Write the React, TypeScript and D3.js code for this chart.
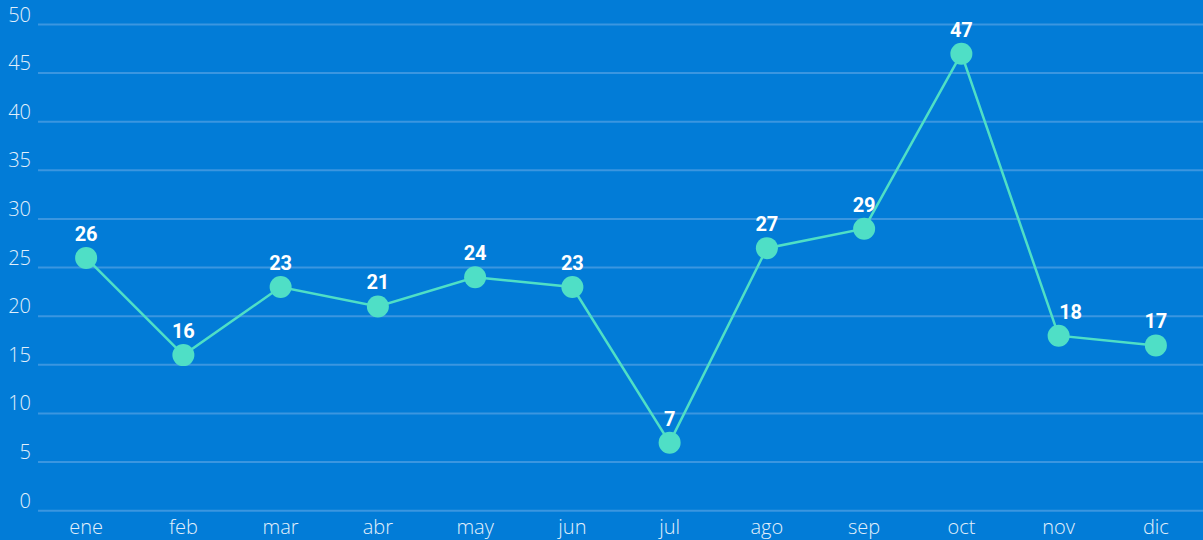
import React from "react";
import * as d3 from "d3";

const months = ["ene", "feb", "mar", "abr", "may", "jun", "jul", "ago", "sep", "oct", "nov", "dic"];
const values = [26, 16, 23, 21, 24, 23, 7, 27, 29, 47, 18, 17];
const yTicks = [0, 5, 10, 15, 20, 25, 30, 35, 40, 45, 50];

const W = 1203;
const H = 540;

export default function App() {
  const x = d3.scaleBand<string>().domain(months).range([37.5, 1204.5]);
  const y = d3.scaleLinear().domain([0, 50]).range([510.7, 24.5]);
  const cx = (m: string) => (x(m) as number) + x.bandwidth() / 2;
  const line = d3
    .line<number>()
    .x((_, i) => cx(months[i]))
    .y((d) => y(d));
  // label nudged right when the incoming segment is steep from above (avoids overlap)
  const labelDx = (i: number) =>
    i > 0 && values[i - 1] - values[i] > 20 ? 12 : 0;
  return (
    <svg
      width={W}
      height={H}
      style={{ position: "fixed", left: 0, top: 0, display: "block" }}
    >
      <rect x={0} y={0} width={W} height={H} fill="#027cd7" />
      {yTicks.map((t) => (
        <g key={t}>
          <line x1={38} x2={W} y1={y(t)} y2={y(t)} stroke="#3b96e0" strokeWidth={2} />
          <text
            x={31}
            y={y(t) - 3}
            textAnchor="end"
            fill="#e2f0fb"
            fontFamily="'Open Sans', sans-serif"
            fontWeight={300}
            fontSize={20}
          >
            {t}
          </text>
        </g>
      ))}
      {months.map((m) => (
        <text
          key={m}
          x={cx(m)}
          y={533.5}
          textAnchor="middle"
          fill="#e2f0fb"
          fontFamily="'Open Sans', sans-serif"
          fontWeight={300}
          fontSize={20}
        >
          {m}
        </text>
      ))}
      <path d={line(values) || ""} fill="none" stroke="#4fdfc6" strokeWidth={2.5} />
      {values.map((v, i) => (
        <g key={i}>
          <circle cx={cx(months[i])} cy={y(v)} r={11} fill="#4fdfc6" />
          <text
            x={cx(months[i]) + labelDx(i)}
            y={y(v) - 17}
            textAnchor="middle"
            fill="#ffffff"
            fontFamily="'Roboto', sans-serif"
            fontWeight={700}
            fontSize={20}
          >
            {v}
          </text>
        </g>
      ))}
    </svg>
  );
}
